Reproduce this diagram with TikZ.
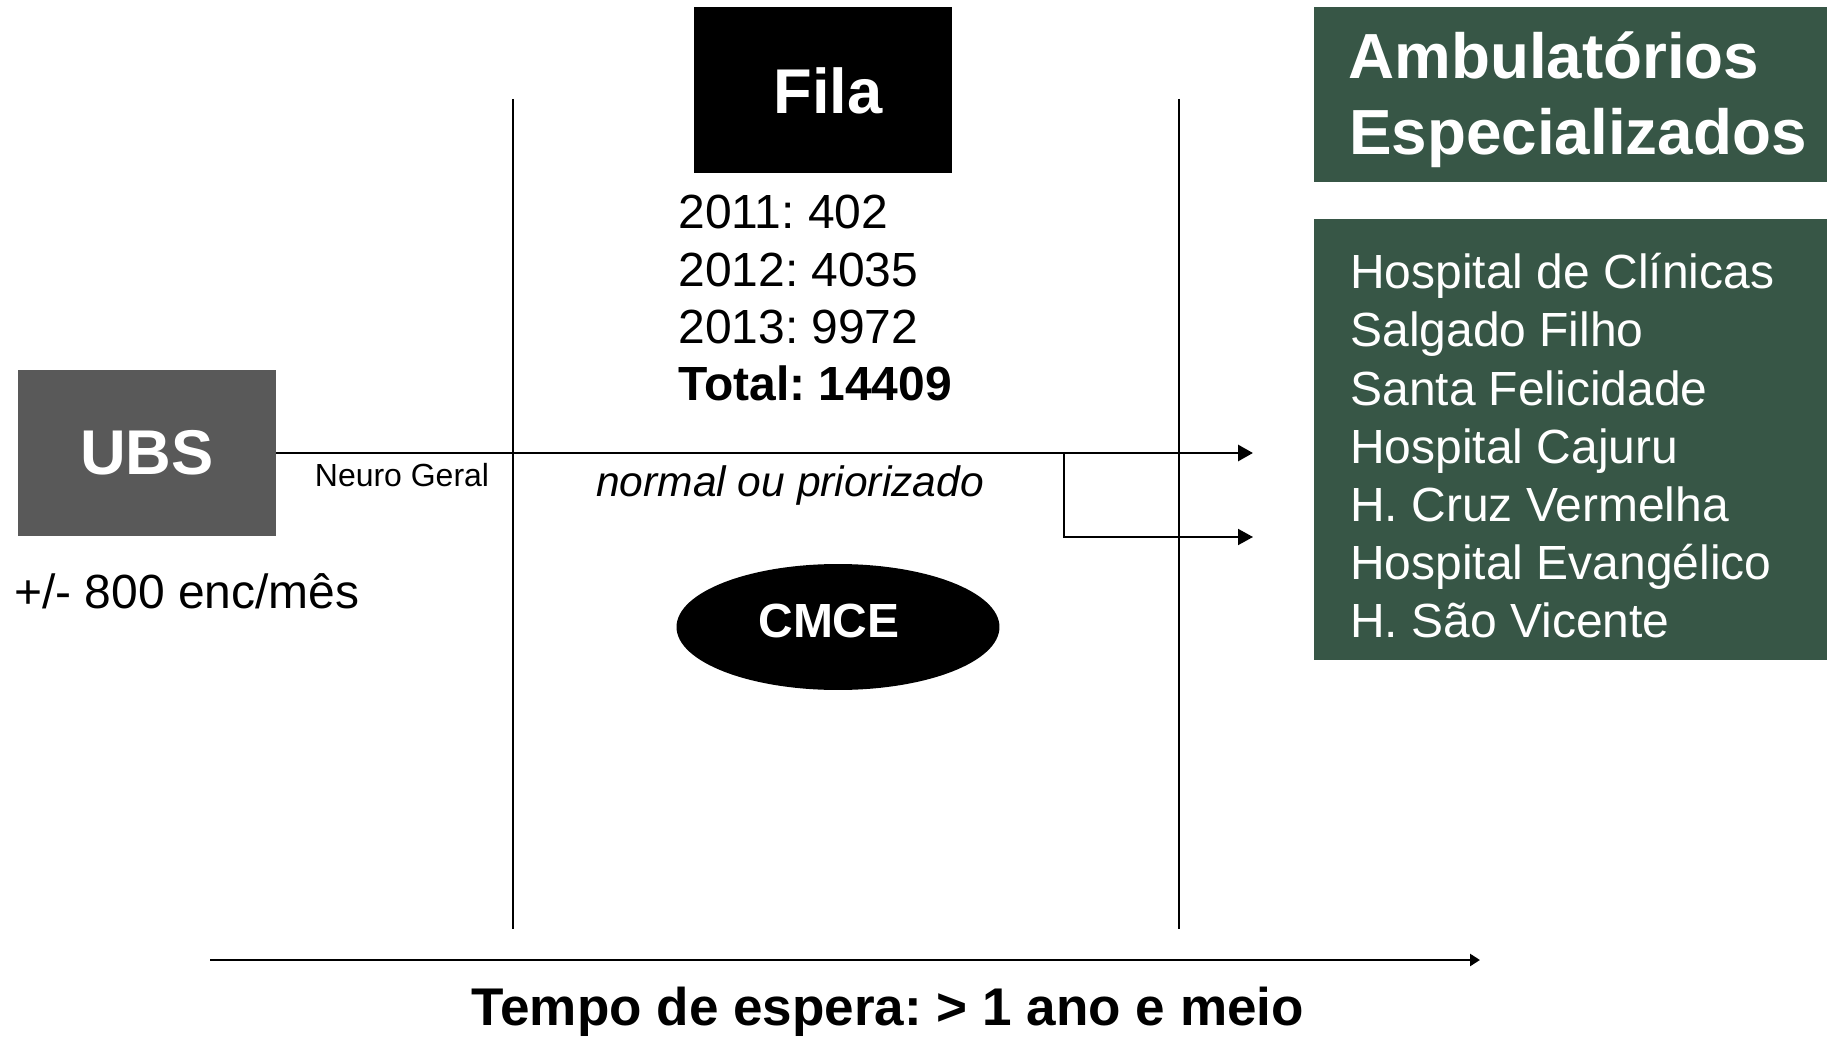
\documentclass[tikz,border=0pt]{standalone}
\usepackage{fontspec}
\setmainfont{Liberation Sans}
\usetikzlibrary{arrows.meta, shapes.geometric, positioning}
\frenchspacing

\definecolor{ubsgray}{RGB}{89,89,89}
\definecolor{ambgreen}{RGB}{55,86,70}

\begin{document}
\begin{tikzpicture}[x=0.02cm, y=-0.02cm,
    every node/.style={inner sep=0pt},
    darkbox/.style={rectangle, text=white, font=\fontsize{36}{42}\selectfont\bfseries,
        minimum width=5.16cm, minimum height=3.34cm},
    numtext/.style={font=\fontsize{27.3}{32}\selectfont},
    listtext/.style={font=\fontsize{27.3}{32}\selectfont, text=white},
    headtext/.style={font=\fontsize{36.3}{43}\selectfont\bfseries, text=white},
    mainarrow/.style={line width=1.7pt, -{Triangle[length=0.3cm, width=0.32cm]}},
    sidearrow/.style={line width=1.1pt, -{Triangle[length=0.3cm, width=0.32cm]}}]

    \useasboundingbox (0,0) rectangle (1827,1037);

    % boxes on the left and in the middle
    \node[darkbox, fill=ubsgray] (ubs) at (147,453) {UBS};
    \node[darkbox, fill=black, minimum height=3.32cm] (fila) at (823,90) {};
    \node[darkbox, anchor=center] (filatext) at (828,91) {Fila};
    \node[ellipse, fill=black, minimum width=6.46cm, minimum height=2.52cm] (cmce) at (838,627) {};
    \node[text=white, font=\fontsize{27.3}{32}\selectfont\bfseries] (cmcetext) at (829,621) {CMCE};

    % time limits
    \draw[line width=1.1pt] (513,99) -- (513,929);
    \draw[line width=1.1pt] (1179,99) -- (1179,929);

    % queue numbers
    \node[numtext, anchor=base west] (y2011) at (678,229) {2011: 402};
    \node[numtext, anchor=base west] (y2012) at (678,287) {2012: 4035};
    \node[numtext, anchor=base west] (y2013) at (678,344) {2013: 9972};
    \node[numtext, anchor=base west, font=\fontsize{27.3}{32}\selectfont\bfseries] (total) at (678,400) {Total: 14409};

    % referral flow
    \coordinate (split) at (1064,453);
    \coordinate (tip1) at (1253,453);
    \coordinate (tip2) at (1253,537);
    \draw[mainarrow] (ubs.east) -- (tip1);
    \draw[sidearrow] (split) |- (tip2);
    \node[anchor=base, font=\fontsize{18.2}{22}\selectfont] (neuro) at (402,486) {Neuro Geral};
    \node[anchor=base, font=\fontsize{24.2}{29}\selectfont\itshape] (prio) at (790,496) {normal ou priorizado};
    \node[numtext, anchor=base west] (enc) at (14,608) {+/- 800 enc/mês};

    % specialised clinics
    \fill[ambgreen] (1314,7) rectangle (1827,182);
    \fill[ambgreen] (1314,219) rectangle (1827,660);
    \node[headtext, anchor=base west] (amb1) at (1348,79) {Ambulatórios};
    \node[headtext, anchor=base west] (amb2) at (1349,155) {Especializados};
    \node[listtext, anchor=base west] (h1) at (1350,289) {Hospital de Clínicas};
    \node[listtext, anchor=base west] (h2) at (1350,347) {Salgado Filho};
    \node[listtext, anchor=base west] (h3) at (1350,405) {Santa Felicidade};
    \node[listtext, anchor=base west] (h4) at (1350,463) {Hospital Cajuru};
    \node[listtext, anchor=base west] (h5) at (1350,521) {H. Cruz Vermelha};
    \node[listtext, anchor=base west] (h6) at (1350,579) {Hospital Evangélico};
    \node[listtext, anchor=base west] (h7) at (1350,637) {H. São Vicente};

    % waiting time
    \coordinate (tstart) at (210,960);
    \coordinate (tend) at (1480,960);
    \draw[line width=1.4pt, -{Triangle[length=0.2cm, width=0.24cm]}] (tstart) -- (tend);
    \node[anchor=base, font=\fontsize{30.2}{36}\selectfont\bfseries] (tempo) at (888,1025) {Tempo de espera: > 1 ano e meio};
\end{tikzpicture}
\end{document}
